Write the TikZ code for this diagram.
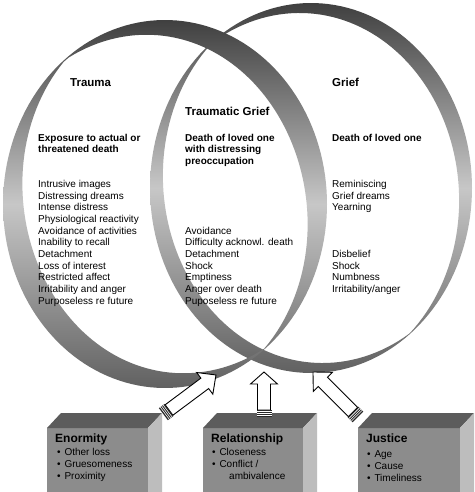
\documentclass[tikz,border=0pt]{standalone}
\usepackage{fontspec}
\setmainfont{Liberation Sans}
\definecolor{frontc}{gray}{0.55}
\definecolor{topc}{gray}{0.36}
\definecolor{sidec}{gray}{0.74}
\newcommand{\ringband}[5]{%
  \shade[top color=black!75, bottom color=black!62, middle color=black!22, even odd rule]
   plot[variable=\t, domain=0:360, samples=160] ({#1+#3*cos(\t)},{#2+#4*sin(\t)}) -- cycle
   plot[variable=\t, domain=0:360, samples=160] ({#1+(#3-#5*abs(sin(\t-52))-0.6)*cos(\t)},{#2+(#4-#5*abs(sin(\t-52))-0.6)*sin(\t)}) -- cycle;}
\newcommand{\cubox}[2]{%
  \fill[frontc] (#1,428) rectangle (#2,500);
  \fill[topc] (#1,428) -- ({#1+14},413) -- ({#2+14},413) -- (#2,428) -- cycle;
  \fill[sidec] (#2,428) -- ({#2+14},413) -- ({#2+14},500) -- (#2,500) -- cycle;}
\newcommand{\blockarr}[5]{%
  \begin{scope}[shift={(#1,#2)}, rotate=#3]
   \draw[line width=0.9pt, fill=white, line join=miter] (0,-6.5) -- ({#4-#5},-6.5) -- ({#4-#5},-13.5) -- (#4,0) -- ({#4-#5},13.5) -- ({#4-#5},6.5) -- (0,6.5) -- cycle;
   \fill[black!85] (-7,-7.5) rectangle (0,7.5);
   \foreach \u in {-5.3,-3.5,-1.7} \draw[white, line width=0.6pt] (\u,-7.5) -- (\u,7.5);
  \end{scope}}
\begin{document}
\begin{tikzpicture}[x=1pt,y=-1pt,
  hd/.style={font=\fontsize{11.5}{13}\selectfont\bfseries, anchor=base west, inner sep=0pt},
  sub/.style={font=\fontsize{10}{11.7}\selectfont\bfseries, anchor=base west, inner sep=0pt},
  lst/.style={font=\fontsize{10}{11.7}\selectfont, anchor=base west, inner sep=0pt},
  bt/.style={font=\fontsize{12}{14}\selectfont\bfseries, anchor=base west, inner sep=0pt},
  bl/.style={font=\fontsize{10}{12}\selectfont, anchor=base west, inner sep=0pt}]
\useasboundingbox (0,0) rectangle (474,492);
\clip (0,0) rectangle (474,492);
\fill[white] (0,0) rectangle (474,492);
% rings
\ringband{311}{188}{161}{185}{16}
\ringband{165}{204}{162}{184}{25}
% headings
\node[hd] (trauma) at (70,87) {Trauma};
\node[hd] (tgrief) at (185,115) {Traumatic Grief};
\node[hd] (grief) at (332,87) {Grief};
\node[sub] (s1a) at (38,141) {Exposure to actual or};
\node[sub] (s1b) at (38,152.7) {threatened death};
\node[sub] (s2a) at (185,141) {Death of loved one};
\node[sub] (s2b) at (185,152.7) {with distressing};
\node[sub] (s2c) at (185,164.4) {preoccupation};
\node[sub] (s3a) at (332,141) {Death of loved one};
\foreach \s [count=\i] in {Intrusive images, Distressing dreams, Intense distress, Physiological reactivity, Avoidance of activities, Inability to recall, Detachment, Loss of interest, Restricted affect, Irritability and anger, Purposeless re future}
  \node[lst] (ta\i) at (38,{187.3+11.7*(\i-1)}) {\s};
\foreach \s [count=\i] in {Avoidance, Difficulty acknowl. death, Detachment, Shock, Emptiness, Anger over death, Puposeless re future}
  \node[lst] (tb\i) at (185,{234+11.7*(\i-1)}) {\s};
\foreach \s [count=\i] in {Reminiscing, Grief dreams, Yearning}
  \node[lst] (tc\i) at (332,{187.3+11.7*(\i-1)}) {\s};
\foreach \s [count=\i] in {Disbelief, Shock, Numbness, Irritability/anger}
  \node[lst] (td\i) at (332,{257.4+11.7*(\i-1)}) {\s};
% boxes
\cubox{47}{148}
\cubox{203}{303}
\cubox{358}{460}
\node[bt] (enorm) at (55,442) {Enormity};
\node[bl] (e1) at (57,455) {•\hspace{3.8pt}Other loss};
\node[bl] (e2) at (57,467.3) {•\hspace{3.8pt}Gruesomeness};
\node[bl] (e3) at (57,479.6) {•\hspace{3.8pt}Proximity};
\node[bt] (relat) at (211,442) {Relationship};
\node[bl] (r1) at (212,455) {•\hspace{3.8pt}Closeness};
\node[bl] (r2) at (212,467.3) {•\hspace{3.8pt}Conflict /};
\node[bl] (r3) at (229,479.6) {ambivalence};
\node[bt] (just) at (366,442) {Justice};
\node[bl] (j1) at (367,457) {•\hspace{3.8pt}Age};
\node[bl] (j2) at (367,469.3) {•\hspace{3.8pt}Cause};
\node[bl] (j3) at (367,481.6) {•\hspace{3.8pt}Timeliness};
% arrows
\blockarr{169}{410}{36.7}{58.6}{14}
\blockarr{264}{410}{90}{38}{12}
\blockarr{353}{412}{135}{56.6}{14}
\end{tikzpicture}
\end{document}
